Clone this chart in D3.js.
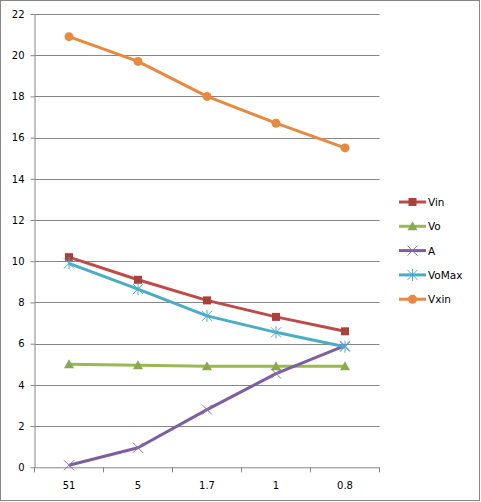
<!DOCTYPE html>
<html>
<head>
<meta charset="utf-8">
<script src="https://cdn.jsdelivr.net/npm/d3@7"></script>
<style>
  html, body { margin: 0; padding: 0; background: #fff; }
  svg { display: block; font-family: "DejaVu Sans", sans-serif; }
</style>
</head>
<body>
<div id="chart"></div>
<script>
// categories and series
const categories = ["51", "5", "1.7", "1", "0.8"];
const vin = [10.2, 9.1, 8.1, 7.3, 6.6];
const vo = [5.0, 4.95, 4.9, 4.9, 4.9];
const aVals = [0.1, 0.95, 2.8, 4.55, 5.9];
const voMax = [9.9, 8.65, 7.35, 6.55, 5.85];
const vxin = [20.9, 19.7, 18.0, 16.7, 15.5];
const yTicks = [0, 2, 4, 6, 8, 10, 12, 14, 16, 18, 20, 22];

const series = [
  { name: "Vin", values: vin, color: "#be4b48", marker: "square" },
  { name: "Vo", values: vo, color: "#98b954", marker: "triangle" },
  { name: "A", values: aVals, color: "#7d5fa0", marker: "cross" },
  { name: "VoMax", values: voMax, color: "#4aacc5", marker: "star" },
  { name: "Vxin", values: vxin, color: "#e8893f", marker: "circle" },
];

const width = 481;
const height = 502;
const margin = { top: 14, left: 34.5, right: 102, bottom: 35 };
const innerW = 379.5 - margin.left;
const innerH = 467.3 - margin.top;
const grey = "#868686";

const svg = d3.select("#chart").append("svg")
  .attr("width", width)
  .attr("height", height);

// outer frame
svg.append("rect")
  .attr("x", 0.5).attr("y", 0.5)
  .attr("width", width - 2).attr("height", height - 2)
  .attr("fill", "#fff")
  .attr("stroke", grey);

const x = d3.scaleBand().domain(categories).range([0, innerW]);
const y = d3.scaleLinear().domain([0, 22]).range([innerH, 0]);

const g = svg.append("g").attr("transform", `translate(${margin.left},${margin.top})`);

// gridlines
g.append("g")
  .selectAll("line")
  .data(yTicks.filter((d) => d > 0))
  .join("line")
  .attr("x1", 0).attr("x2", innerW)
  .attr("y1", (d) => Math.round(y(d)) + 0.5)
  .attr("y2", (d) => Math.round(y(d)) + 0.5)
  .attr("stroke", grey)
  .attr("stroke-width", 1);

// y axis
const yAxis = g.append("g")
  .call(d3.axisLeft(y).tickValues(yTicks).tickSize(4).tickPadding(6).tickSizeOuter(0));
yAxis.select(".domain").attr("stroke", grey);
yAxis.selectAll(".tick line").attr("stroke", grey);
yAxis.selectAll(".tick text")
  .attr("fill", "#000")
  .style("font-size", "10px")
  .style("font-family", "DejaVu Sans");

// x axis: ticks at band boundaries
const xg = g.append("g").attr("transform", `translate(0,${innerH})`);
xg.append("line")
  .attr("x1", 0).attr("x2", innerW)
  .attr("y1", 0.5).attr("y2", 0.5)
  .attr("stroke", grey);
xg.selectAll("line.tk")
  .data(categories.concat(["end"]))
  .join("line")
  .attr("class", "tk")
  .attr("x1", (d, i) => i * x.step())
  .attr("x2", (d, i) => i * x.step())
  .attr("y1", 0).attr("y2", 5)
  .attr("stroke", grey);
xg.selectAll("text")
  .data(categories)
  .join("text")
  .attr("x", (d) => x(d) + x.bandwidth() / 2)
  .attr("y", 22)
  .attr("text-anchor", "middle")
  .attr("font-size", 10)
  .attr("fill", "#000")
  .text((d) => d);

const cx = (i) => x(categories[i]) + x.bandwidth() / 2;

const line = d3.line()
  .x((d, i) => cx(i))
  .y((d) => y(d));

const drawMarker = (sel, type, color) => {
  if (type === "square") {
    sel.append("rect")
      .attr("x", -4).attr("y", -4).attr("width", 8).attr("height", 8)
      .attr("fill", "#ab3f3b");
  } else if (type === "triangle") {
    sel.append("path")
      .attr("d", "M0,-5L5,4L-5,4Z")
      .attr("fill", "#8aab4b");
  } else if (type === "circle") {
    sel.append("circle").attr("r", 4.5).attr("fill", color);
  } else if (type === "cross") {
    sel.append("path")
      .attr("d", "M-5,-5L5,5M-5,5L5,-5")
      .attr("stroke", "#8b72ad")
      .attr("stroke-width", 1);
  } else if (type === "star") {
    sel.append("path")
      .attr("d", "M-5,-5L5,5M-5,5L5,-5M0,-6L0,6")
      .attr("stroke", "#4aacc5")
      .attr("stroke-width", 1);
  }
};

// draw in order so later series are on top
series.forEach((s) => {
  const sg = g.append("g");
  sg.append("path")
    .datum(s.values)
    .attr("d", line)
    .attr("fill", "none")
    .attr("stroke", s.color)
    .attr("stroke-width", 3)
    .attr("stroke-linejoin", "round");
  sg.selectAll("g.m")
    .data(s.values)
    .join("g")
    .attr("class", "m")
    .attr("transform", (d, i) => `translate(${cx(i)},${y(d)})`)
    .each(function () { drawMarker(d3.select(this), s.marker, s.color); });
});

// legend
const legend = svg.append("g").attr("transform", "translate(399,202)");
const items = legend.selectAll("g")
  .data(series)
  .join("g")
  .attr("transform", (d, i) => `translate(0,${i * 24.3})`);
items.append("line")
  .attr("x1", 0).attr("x2", 27)
  .attr("stroke", (d) => d.color)
  .attr("stroke-width", 3);
items.each(function (d) {
  const m = d3.select(this).append("g").attr("transform", "translate(13.5,0)");
  drawMarker(m, d.marker, d.color);
});
items.append("text")
  .attr("x", 29)
  .attr("y", 4)
  .attr("font-size", 10.5)
  .attr("fill", "#000")
  .text((d) => d.name);
</script>
</body>
</html>
